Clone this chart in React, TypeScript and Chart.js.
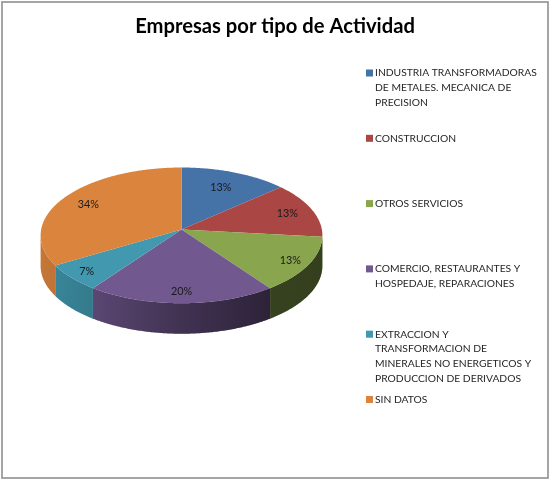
import React, { useEffect, useRef } from "react";
import { Chart, registerables } from "chart.js";

Chart.register(...registerables);

const titleText = "Empresas por tipo de Actividad";
const categories: string[][] = [
  ["INDUSTRIA TRANSFORMADORAS", "DE METALES. MECANICA DE", "PRECISION"],
  ["CONSTRUCCION"],
  ["OTROS SERVICIOS"],
  ["COMERCIO, RESTAURANTES Y", "HOSPEDAJE, REPARACIONES"],
  ["EXTRACCION Y", "TRANSFORMACION DE", "MINERALES NO ENERGETICOS Y", "PRODUCCION DE DERIVADOS"],
  ["SIN DATOS"],
];
const shares = [13.4, 13.3, 13.3, 20, 6.5, 33.5];
const colors = ["#4572A7", "#AA4643", "#89A54E", "#71588F", "#4198AF", "#DB843D"];

const FONT = "Lato, 'Noto Sans', sans-serif";
const TILT = 0.48;
const PERSPECTIVE = 0.0847;
const DEPTH = 30.5;

function project(arc: any, theta: number, f = 1): [number, number] {
  const X = Math.cos(theta) * f;
  const Y = Math.sin(theta) * f;
  const d = 1 - PERSPECTIVE * Y;
  return [arc.x + (arc.outerRadius * X) / d, arc.y + (arc.outerRadius * TILT * Y) / d];
}

function arcPoints(arc: any, a0: number, a1: number): [number, number][] {
  const n = Math.max(2, Math.ceil((a1 - a0) / 0.01));
  const pts: [number, number][] = [];
  for (let i = 0; i <= n; i++) pts.push(project(arc, a0 + ((a1 - a0) * i) / n));
  return pts;
}

const pie3d = {
  id: "pie3d",
  beforeDraw(chart: any) {
    const c = chart.ctx;
    c.save();
    c.strokeStyle = "#969696";
    c.lineWidth = 1.7;
    c.strokeRect(2, 2, 546, 476);
    c.restore();
  },
  afterLayout(chart: any) {
    chart.titleBlock.left = 0;
    chart.titleBlock.right = chart.width;
  },
  beforeDatasetsDraw(chart: any) {
    const c = chart.ctx;
    const arcs = chart.getDatasetMeta(0).data;
    const first = arcs[0];
    const r = first.outerRadius;
    const sil = Math.asin(PERSPECTIVE);
    c.save();
    // side wall
    const shade = c.createLinearGradient(first.x - r, 0, first.x + r, 0);
    shade.addColorStop(0, "rgba(0,0,0,0.1)");
    shade.addColorStop(0.185, "rgba(0,0,0,0.2)");
    shade.addColorStop(0.5, "rgba(0,0,0,0.43)");
    shade.addColorStop(0.81, "rgba(0,0,0,0.6)");
    shade.addColorStop(1, "rgba(0,0,0,0.62)");
    arcs.forEach((arc: any) => {
      const a0 = Math.max(arc.startAngle, sil);
      const a1 = Math.min(arc.endAngle, Math.PI - sil);
      if (a1 <= a0) return;
      const pts = arcPoints(arc, a0, a1);
      c.beginPath();
      pts.forEach(([x, y], i) => (i ? c.lineTo(x, y) : c.moveTo(x, y)));
      pts.slice().reverse().forEach(([x, y]) => c.lineTo(x, y + DEPTH));
      c.closePath();
      c.fillStyle = arc.options.backgroundColor;
      c.fill();
      c.fillStyle = shade;
      c.fill();
    });
    // top face
    arcs.forEach((arc: any) => {
      c.beginPath();
      c.moveTo(arc.x, arc.y);
      arcPoints(arc, arc.startAngle, arc.endAngle).forEach(([x, y]) => c.lineTo(x, y));
      c.closePath();
      c.fillStyle = arc.options.backgroundColor;
      c.fill();
    });
    // percentage labels
    c.fillStyle = "#1a1a1a";
    c.font = `10.8px ${FONT}`;
    c.textAlign = "center";
    c.textBaseline = "middle";
    const values = chart.data.datasets[0].data as number[];
    const total = values.reduce((a, b) => a + b, 0);
    arcs.forEach((arc: any, i: number) => {
      const mid = (arc.startAngle + arc.endAngle) / 2;
      const f = 0.765 + 0.075 * Math.sin(mid) + 0.07 * Math.abs(Math.cos(mid));
      const [x, y] = project(arc, mid, f);
      c.fillText(`${Math.round((values[i] / total) * 100)}%`, x, y + 0.5);
    });
    // legend
    const pitch = 65.3;
    const lineH = 14.8;
    c.font = `10.3px ${FONT}`;
    c.textAlign = "left";
    (chart.data.labels as string[][]).forEach((lines, i) => {
      const y0 = 73 + i * pitch;
      c.fillStyle = colors[i];
      c.fillRect(366, y0 - 3.5, 7, 7);
      c.fillStyle = "#262626";
      lines.forEach((t, j) => c.fillText(t, 375, y0 + j * lineH));
    });
    c.restore();
    return false;
  },
};

export default function App() {
  const ref = useRef<HTMLCanvasElement>(null);
  useEffect(() => {
    const chart = new Chart(ref.current!, {
      type: "pie",
      data: {
        labels: categories as any,
        datasets: [{ data: shares, backgroundColor: colors, borderWidth: 0 }],
      },
      options: {
        responsive: false,
        animation: false,
        layout: { padding: { left: 41, right: 228, top: 0, bottom: 110 } },
        plugins: {
          legend: { display: false },
          tooltip: { enabled: false },
          title: {
            display: true,
            text: titleText,
            color: "#000000",
            font: { family: FONT, size: 20.2, weight: "bold" },
            padding: { top: 14, bottom: 51 },
          },
        },
      },
      plugins: [pie3d],
    });
    return () => chart.destroy();
  }, []);
  return (
    <div style={{ position: "fixed", left: 0, top: 0, width: 550, height: 480, background: "#fff" }}>
      <canvas ref={ref} width={550} height={480} style={{ display: "block" }} />
    </div>
  );
}
